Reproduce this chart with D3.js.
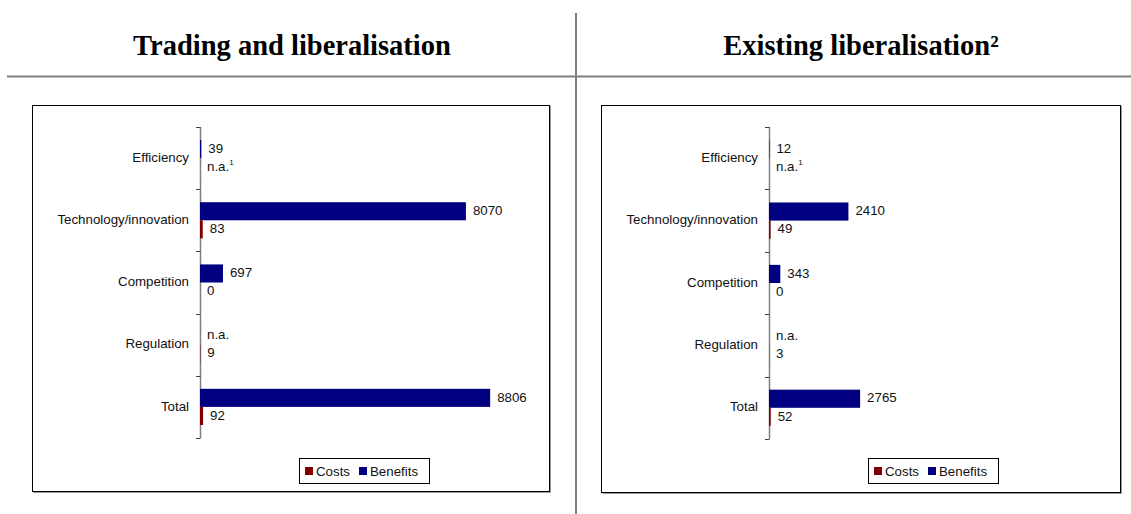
<!DOCTYPE html>
<html>
<head>
<meta charset="utf-8">
<script src="https://cdn.jsdelivr.net/npm/d3@7"></script>
<style>
  html, body { margin: 0; padding: 0; background: #fff; }
  svg { display: block; }
</style>
</head>
<body>
<svg id="chart" width="1131" height="514"></svg>
<script>
// Categories shared by both panels (top to bottom)
const categories = ["Efficiency", "Technology/innovation", "Competition", "Regulation", "Total"];
const seriesNames = ["Costs", "Benefits"];

// Trading and liberalisation (null = not available)
const tradingBenefits = [39, 8070, 697, null, 8806];
const tradingCosts = [null, 83, 0, 9, 92];

// Existing liberalisation
const existingBenefits = [12, 2410, 343, null, 2765];
const existingCosts = [null, 49, 0, 3, 52];

// Footnote markers attached to "n.a." cost entries
const costNotes = ["1", null, null, null, null];

const panelTitles = ["Trading and liberalisation", "Existing liberalisation\u00B2"];

const colors = { Benefits: "#000080", Costs: "#800000" };
const labelFont = "'Liberation Sans', Arial, sans-serif";

const svg = d3.select("#chart");

// Page rules dividing the two panels
svg.append("line")
  .attr("x1", 7).attr("x2", 1131).attr("y1", 76.5).attr("y2", 76.5)
  .attr("stroke", "#808080").attr("stroke-width", 2);
svg.append("line")
  .attr("x1", 576).attr("x2", 576).attr("y1", 13).attr("y2", 514)
  .attr("stroke", "#808080").attr("stroke-width", 2);

const panels = [
  { title: panelTitles[0], titleX: 292, box: { x: 32, y: 105, w: 517, h: 386 },
    benefits: tradingBenefits, costs: tradingCosts },
  { title: panelTitles[1], titleX: 861, box: { x: 601, y: 105, w: 519, h: 387 },
    benefits: existingBenefits, costs: existingCosts }
];

panels.forEach(p => {
  const g = svg.append("g");

  // Panel heading
  g.append("text")
    .attr("x", p.titleX).attr("y", 55)
    .attr("text-anchor", "middle")
    .attr("font-family", "'Liberation Serif', 'Times New Roman', serif")
    .attr("font-weight", "bold")
    .attr("font-size", 28.5)
    .attr("fill", "#000")
    .text(p.title);

  const b = p.box;
  // Chart frame with a soft shadow on the bottom and right
  g.append("path")
    .attr("d", `M${b.x + 1.5},${b.y + b.h + 1.5}H${b.x + b.w + 1.5}V${b.y + 1}`)
    .attr("fill", "none").attr("stroke", "#9a9a9a").attr("stroke-width", 1);
  g.append("rect")
    .attr("x", b.x + 0.5).attr("y", b.y + 0.5)
    .attr("width", b.w).attr("height", b.h)
    .attr("fill", "#fff").attr("stroke", "#000").attr("stroke-width", 1);

  const axisX = b.x + 168;
  const top = 127, bottom = b.y + b.h - 53;

  const y = d3.scaleBand().domain(categories).range([top, bottom]).padding(0);
  const inner = d3.scaleBand().domain(["Benefits", "Costs"])
    .range([0, y.bandwidth()]).paddingInner(0).paddingOuter(0.72);
  const x = d3.scaleLinear().domain([0, 10000]).range([axisX, axisX + 329.5]);

  // Category axis with ticks on band boundaries
  const axisG = g.append("g").attr("transform", `translate(${axisX},0)`);
  axisG.append("line")
    .attr("x1", 0.5).attr("x2", 0.5).attr("y1", top).attr("y2", bottom)
    .attr("stroke", "#808080").attr("stroke-width", 1.5);
  const edges = categories.map(c => y(c)).concat([bottom]);
  axisG.selectAll("line.tick").data(edges).join("line")
    .attr("class", "tick")
    .attr("x1", -4).attr("x2", 0.5)
    .attr("y1", d => Math.round(d) + 0.5).attr("y2", d => Math.round(d) + 0.5)
    .attr("stroke", "#404040").attr("stroke-width", 1);
  axisG.selectAll("text.cat").data(categories).join("text")
    .attr("class", "cat")
    .attr("x", -11)
    .attr("y", d => y(d) + y.bandwidth() / 2 - 1)
    .attr("dy", "0.35em")
    .attr("text-anchor", "end")
    .attr("font-family", labelFont).attr("font-size", 13.3)
    .attr("fill", "#111")
    .text(d => d);

  const rows = categories.map((c, i) => ({
    cat: c, benefits: p.benefits[i], costs: p.costs[i], note: costNotes[i]
  }));

  ["Benefits", "Costs"].forEach(s => {
    const key = s.toLowerCase();
    // Bars
    g.selectAll(`rect.${key}`).data(rows.filter(r => r[key] !== null)).join("rect")
      .attr("class", key)
      .attr("x", x(0))
      .attr("y", r => y(r.cat) + inner(s))
      .attr("width", r => x(r[key]) - x(0))
      .attr("height", inner.bandwidth())
      .attr("fill", colors[s]);

    // Value labels ("n.a." where no value exists)
    const lab = g.selectAll(`text.${key}`).data(rows).join("text")
      .attr("class", key)
      .attr("x", r => x(r[key] === null ? 0 : r[key]) + 7)
      .attr("y", r => y(r.cat) + inner(s) + inner.bandwidth() / 2 - 1)
      .attr("dy", "0.35em")
      .attr("font-family", labelFont).attr("font-size", 13.3)
      .attr("fill", "#111");
    lab.append("tspan").text(r => r[key] === null ? "n.a." : r[key]);
    if (s === "Costs") {
      lab.filter(r => r[key] === null && r.note)
        .append("tspan")
        .attr("dx", 0).attr("dy", -6)
        .attr("font-size", 8)
        .text(r => r.note);
    }
  });

  // Legend
  const lx = b.x + 267, ly = b.y + 353;
  const leg = g.append("g");
  leg.append("rect")
    .attr("x", lx + 0.5).attr("y", ly + 0.5).attr("width", 130).attr("height", 25)
    .attr("fill", "#fff").attr("stroke", "#000").attr("stroke-width", 1);
  const legX = d3.scalePoint().domain(seriesNames).range([lx + 6, lx + 60]);
  seriesNames.forEach(s => {
    leg.append("rect")
      .attr("x", legX(s)).attr("y", ly + 9)
      .attr("width", 8).attr("height", 8)
      .attr("fill", colors[s]);
    leg.append("text")
      .attr("x", legX(s) + 11).attr("y", ly + 13)
      .attr("dy", "0.35em")
      .attr("font-family", labelFont).attr("font-size", 13.3)
      .attr("fill", "#111")
      .text(s);
  });
});
</script>
</body>
</html>
